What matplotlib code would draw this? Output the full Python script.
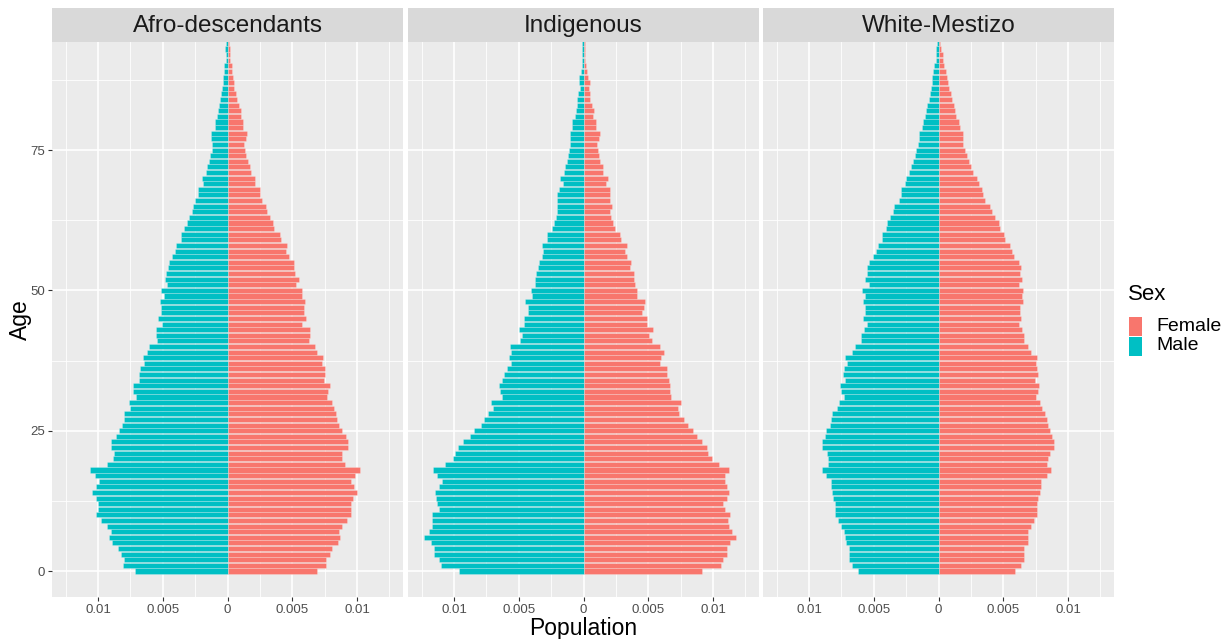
import matplotlib
matplotlib.use('Agg')
import matplotlib.pyplot as plt
from matplotlib.patches import Rectangle
import numpy as np

plt.rcParams['font.family'] = ['Liberation Sans', 'DejaVu Sans']

# ---------------- data (population share, in thousandths) ----------------
SCALE = 1e-3
ages = list(range(0, 95))
groups = ['Afro-descendants', 'Indigenous', 'White-Mestizo']

afro_male = [7.12, 8.07, 7.99, 8.25, 8.46, 8.89, 9.13, 9.00, 9.28, 9.74,
             10.13, 10.00, 10.03, 10.13, 10.46, 10.18, 9.90, 10.23, 10.59, 9.33,
             8.84, 8.77, 9.02, 9.00, 8.64, 8.35, 8.15, 8.02, 7.97, 7.53,
             7.58, 7.04, 7.28, 7.28, 6.84, 6.84, 6.79, 6.48, 6.53, 6.20,
             6.04, 5.45, 5.55, 5.55, 5.04, 5.35, 5.12, 5.12, 5.24, 4.94,
             5.12, 4.65, 4.81, 4.76, 4.60, 4.50, 4.29, 4.04, 4.01, 3.62,
             3.62, 3.32, 3.14, 2.98, 2.75, 2.67, 2.52, 2.29, 2.24, 1.93,
             1.95, 1.65, 1.59, 1.41, 1.36, 1.21, 1.21, 1.26, 1.26, 0.98,
             1.00, 0.82, 0.75, 0.67, 0.57, 0.51, 0.41, 0.36, 0.36, 0.26,
             0.28, 0.15, 0.15, 0.18, 0.13]
afro_female = [6.94, 7.63, 7.61, 7.89, 8.10, 8.56, 8.69, 8.64, 8.82, 9.20,
               9.56, 9.51, 9.56, 9.67, 9.97, 9.77, 9.56, 9.85, 10.26, 9.07,
               8.82, 8.82, 9.28, 9.31, 9.13, 8.82, 8.59, 8.43, 8.41, 8.20,
               8.10, 7.69, 7.74, 7.94, 7.43, 7.51, 7.51, 7.28, 7.38, 6.89,
               6.74, 6.30, 6.35, 6.35, 5.78, 6.07, 5.94, 5.89, 5.96, 5.76,
               5.78, 5.32, 5.50, 5.22, 5.17, 5.17, 4.78, 4.50, 4.58, 4.14,
               4.09, 3.57, 3.50, 3.29, 3.03, 2.96, 2.70, 2.52, 2.49, 2.11,
               2.11, 1.83, 1.75, 1.62, 1.41, 1.34, 1.29, 1.39, 1.52, 1.21,
               1.18, 1.03, 1.03, 0.87, 0.77, 0.67, 0.51, 0.54, 0.46, 0.33,
               0.33, 0.23, 0.23, 0.18, 0.13]
ind_male = [9.59, 11.03, 11.13, 11.52, 11.52, 11.77, 12.29, 11.90, 11.67, 11.67,
            11.72, 11.16, 11.31, 11.36, 11.49, 11.16, 10.95, 11.31, 11.65, 10.69,
            10.08, 9.95, 9.69, 9.31, 8.74, 8.48, 7.94, 7.66, 7.35, 6.97,
            7.17, 6.27, 6.48, 6.56, 6.27, 6.12, 5.94, 5.63, 5.73, 5.58,
            5.68, 4.88, 4.78, 5.01, 4.58, 4.60, 4.29, 4.29, 4.55, 4.01,
            4.06, 3.75, 3.75, 3.70, 3.50, 3.47, 3.24, 3.16, 3.21, 2.78,
            2.85, 2.44, 2.31, 2.16, 2.08, 2.08, 2.01, 2.03, 1.93, 1.62,
            1.83, 1.54, 1.41, 1.29, 1.21, 1.13, 1.03, 1.08, 1.03, 0.87,
            0.85, 0.64, 0.59, 0.54, 0.51, 0.39, 0.28, 0.36, 0.31, 0.21,
            0.15, 0.10, 0.10, 0.13, 0.08]
ind_female = [9.18, 10.62, 10.77, 11.11, 11.11, 11.34, 11.77, 11.47, 11.26, 11.16,
              11.34, 10.95, 10.77, 11.05, 11.26, 11.11, 10.90, 10.90, 11.26, 10.44,
              9.92, 9.64, 9.54, 9.18, 8.79, 8.46, 8.10, 7.76, 7.40, 7.28,
              7.56, 6.76, 6.71, 6.71, 6.63, 6.45, 6.45, 5.94, 6.02, 6.25,
              5.94, 5.30, 5.04, 5.37, 4.88, 4.88, 4.50, 4.70, 4.78, 4.14,
              4.14, 4.01, 3.88, 3.91, 3.57, 3.68, 3.39, 3.21, 3.32, 2.93,
              2.80, 2.44, 2.31, 2.16, 2.08, 2.19, 2.01, 2.08, 2.08, 1.72,
              1.93, 1.49, 1.49, 1.31, 1.23, 1.13, 1.05, 1.23, 1.29, 1.00,
              0.93, 0.75, 0.80, 0.69, 0.54, 0.49, 0.39, 0.49, 0.36, 0.28,
              0.21, 0.15, 0.15, 0.15, 0.10]
wm_male = [6.25, 6.68, 6.94, 6.94, 6.94, 7.17, 7.22, 7.28, 7.53, 7.76,
           8.02, 7.97, 7.97, 8.12, 8.23, 8.28, 8.28, 8.66, 9.02, 8.51,
           8.56, 8.61, 8.97, 8.97, 8.77, 8.66, 8.35, 8.33, 8.25, 7.87,
           7.71, 7.28, 7.53, 7.58, 7.22, 7.38, 7.28, 7.10, 7.22, 6.66,
           6.48, 6.02, 6.02, 5.78, 5.55, 5.81, 5.66, 5.66, 5.81, 5.66,
           5.91, 5.40, 5.71, 5.55, 5.53, 5.40, 5.09, 4.86, 4.70, 4.37,
           4.37, 4.04, 3.98, 3.73, 3.55, 3.44, 3.08, 2.93, 2.90, 2.60,
           2.54, 2.26, 2.16, 1.98, 1.83, 1.70, 1.62, 1.49, 1.49, 1.29,
           1.23, 1.03, 0.98, 0.87, 0.77, 0.69, 0.59, 0.54, 0.49, 0.41,
           0.33, 0.23, 0.18, 0.21, 0.13]
wm_female = [5.94, 6.35, 6.58, 6.58, 6.58, 6.89, 6.89, 6.89, 7.17, 7.40,
             7.63, 7.63, 7.63, 7.71, 7.81, 7.92, 7.92, 8.41, 8.69, 8.41,
             8.46, 8.61, 8.92, 8.92, 8.77, 8.61, 8.48, 8.38, 8.25, 8.02,
             7.84, 7.51, 7.71, 7.76, 7.48, 7.71, 7.61, 7.51, 7.61, 7.15,
             6.94, 6.58, 6.58, 6.43, 6.20, 6.40, 6.32, 6.32, 6.53, 6.43,
             6.56, 6.25, 6.48, 6.32, 6.35, 6.25, 5.86, 5.66, 5.50, 5.17,
             5.04, 4.78, 4.65, 4.40, 4.11, 4.01, 3.57, 3.47, 3.37, 3.11,
             2.98, 2.67, 2.54, 2.39, 2.19, 2.08, 1.93, 1.93, 1.90, 1.65,
             1.62, 1.36, 1.31, 1.21, 1.05, 0.95, 0.80, 0.77, 0.67, 0.57,
             0.46, 0.36, 0.31, 0.23, 0.15]

male_series = [afro_male, ind_male, wm_male]
female_series = [afro_female, ind_female, wm_female]

x_ticks = [-0.01, -0.005, 0, 0.005, 0.01]
x_tick_labels = ['0.01', '0.005', '0', '0.005', '0.01']
y_ticks = [0, 25, 50, 75]
sex_labels = ['Female', 'Male']

# ---------------- styling ----------------
FEMALE = '#F8766D'
MALE = '#00BFC4'
PANEL_BG = '#EBEBEB'
STRIP_BG = '#D9D9D9'

W, H = 1228, 639
fig = plt.figure(figsize=(W / 100, H / 100), dpi=100)
fig.patch.set_facecolor('white')

panel_lefts = [52, 408, 763]
panel_w = 351
panel_top, panel_bottom = 42, 597
strip_top = 8

xmax = 0.01355
ylim = (-4.63, 94.25)

for i, grp in enumerate(groups):
    left = panel_lefts[i]
    ax = fig.add_axes([left / W, (H - panel_bottom) / H, panel_w / W,
                       (panel_bottom - panel_top) / H])
    ax.set_facecolor(PANEL_BG)
    for s in ax.spines.values():
        s.set_visible(False)
    ax.set_axisbelow(True)
    ax.set_xlim(-xmax, xmax)
    ax.set_ylim(*ylim)

    ax.set_xticks(x_ticks)
    ax.set_xticks([-0.0125, -0.0075, -0.0025, 0.0025, 0.0075, 0.0125], minor=True)
    ax.set_yticks(y_ticks)
    ax.set_yticks([12.5, 37.5, 62.5, 87.5], minor=True)
    ax.grid(which='major', color='white', linewidth=1.2)
    ax.grid(which='minor', color='white', linewidth=0.6)
    ax.set_xticklabels(x_tick_labels)
    ax.tick_params(axis='both', which='major', length=3, width=0.8,
                   color='#333333', labelcolor='#4D4D4D', labelsize=9.5, pad=2)
    ax.tick_params(axis='both', which='minor', length=0)
    if i > 0:
        ax.tick_params(axis='y', which='major', left=False, labelleft=False)

    m = np.array(male_series[i]) * SCALE
    f = np.array(female_series[i]) * SCALE
    ax.barh(ages, -m, height=0.9, color=MALE,
            edgecolor=(1, 1, 1, 0.35), linewidth=0.4)
    ax.barh(ages, f, height=0.9, color=FEMALE,
            edgecolor=(1, 1, 1, 0.35), linewidth=0.4)

    # facet strip
    sax = fig.add_axes([left / W, (H - panel_top) / H, panel_w / W,
                        (panel_top - strip_top) / H])
    sax.set_facecolor(STRIP_BG)
    sax.set_xticks([])
    sax.set_yticks([])
    for s in sax.spines.values():
        s.set_visible(False)
    sax.text(0.5, 0.47, grp, ha='center', va='center', fontsize=17.5,
             color='#1A1A1A', transform=sax.transAxes)

# axis titles
fig.text(583 / W, 1 - 628 / H, 'Population', ha='center', va='center',
         fontsize=16.5, color='black')
fig.text(20 / W, 1 - 320 / H, 'Age', ha='center', va='center',
         fontsize=16.5, rotation=90, color='black')

# legend
fig.text(1128 / W, 1 - 295 / H, 'Sex', ha='left', va='center',
         fontsize=16, color='black')
key_colors = [FEMALE, MALE]
for j, (lab, col) in enumerate(zip(sex_labels, key_colors)):
    top = 317 + j * 19.5
    fig.add_artist(Rectangle((1129 / W, 1 - (top + 19) / H), 13 / W, 19 / H,
                             transform=fig.transFigure, facecolor=col,
                             edgecolor='none'))
    fig.text(1156 / W, 1 - (top + 9.5) / H, lab, ha='left', va='center',
             fontsize=14, color='black')

fig.savefig('out.png', dpi=100, facecolor='white')
